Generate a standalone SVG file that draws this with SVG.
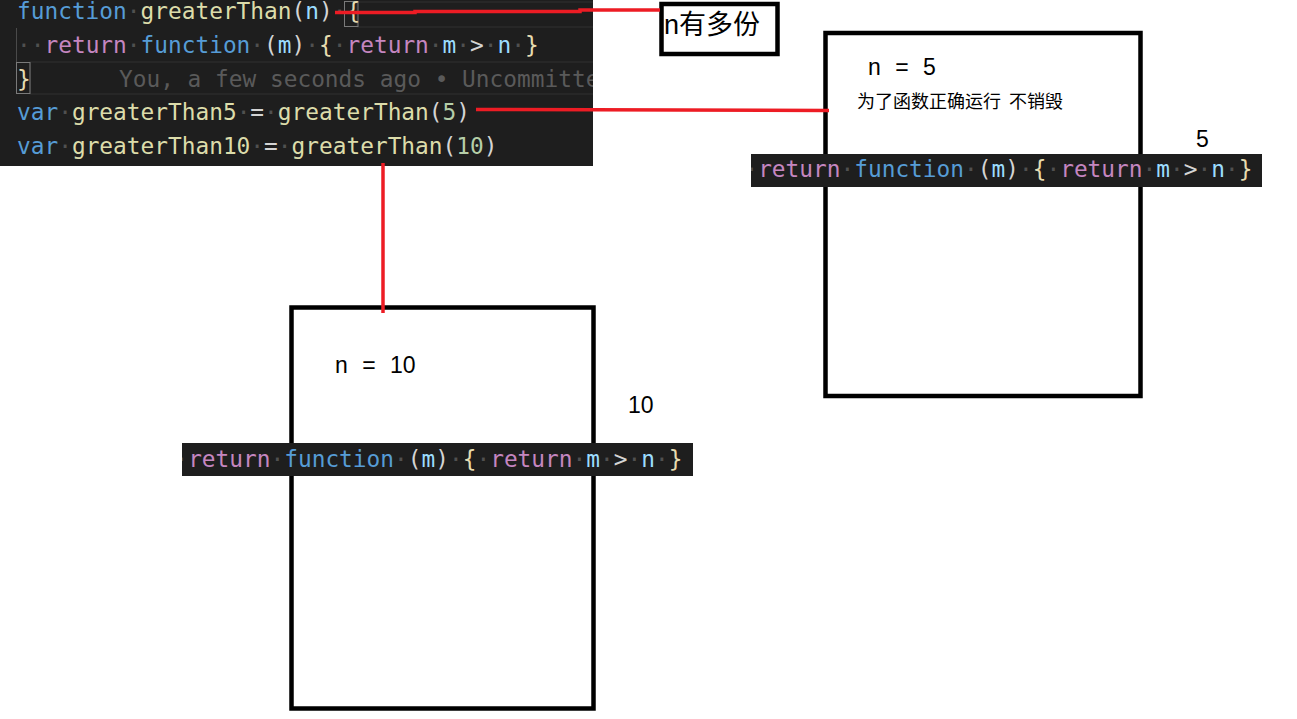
<svg xmlns="http://www.w3.org/2000/svg" width="1297" height="719" viewBox="0 0 1297 719">
<defs>
<style>
.bg{fill:#1e1e1e}
.code{font-family:"DejaVu Sans Mono","Liberation Mono",monospace;font-size:22.8px}
.kw{fill:#569cd6}.fn{fill:#dcdcaa}.pr{fill:#9cdcfe}.rt{fill:#c586c0}.pu{fill:#d4d4d4}.nu{fill:#b5cea8}.dt{fill:#505050}.br{fill:#e6dcb0}
.ghost{fill:#5a5a5a}
.box{fill:none;stroke:#000;stroke-width:4.5}
.lbl{font-family:"Liberation Sans",Arial,sans-serif;fill:#000}
.cjk{font-family:"Liberation Sans","Noto Sans CJK SC",sans-serif;fill:#000}
.red{fill:none;stroke:#ed1c24;stroke-width:3.5}
</style>
<clipPath id="cpPanel"><rect x="0" y="0" width="593" height="166"/></clipPath>
<clipPath id="cpS5"><rect x="751" y="154" width="511" height="33"/></clipPath>
<clipPath id="cpS10"><rect x="182" y="443" width="511" height="33"/></clipPath>
</defs>
<rect width="1297" height="719" fill="#fff"/>

<g id="code-panel" clip-path="url(#cpPanel)">
<rect class="bg" x="0" y="0" width="593" height="166"/>
<rect x="357" y="2" width="240" height="25" fill="none" stroke="#303030" stroke-width="1"/>
<rect x="344.5" y="1.5" width="13.5" height="25" fill="none" stroke="#7a7a7a" stroke-width="1"/>
<rect x="30" y="62" width="570" height="32" fill="none" stroke="#303030" stroke-width="1"/>
<rect x="16.5" y="62.5" width="13.5" height="31" fill="none" stroke="#7a7a7a" stroke-width="1"/>
<line x1="16.5" y1="28" x2="16.5" y2="62" stroke="#4a4a4a" stroke-width="1"/>
<text class="code" x="17" y="19"><tspan class="kw">function</tspan><tspan class="dt">·</tspan><tspan class="fn">greaterThan</tspan><tspan class="pu">(</tspan><tspan class="pr">n</tspan><tspan class="pu">)</tspan><tspan class="dt">·</tspan><tspan class="br">{</tspan></text>
<text class="code" x="17" y="53"><tspan class="dt">··</tspan><tspan class="rt">return</tspan><tspan class="dt">·</tspan><tspan class="kw">function</tspan><tspan class="dt">·</tspan><tspan class="pu">(</tspan><tspan class="pr">m</tspan><tspan class="pu">)</tspan><tspan class="dt">·</tspan><tspan class="br">{</tspan><tspan class="dt">·</tspan><tspan class="rt">return</tspan><tspan class="dt">·</tspan><tspan class="pr">m</tspan><tspan class="dt">·</tspan><tspan class="pu">&gt;</tspan><tspan class="dt">·</tspan><tspan class="pr">n</tspan><tspan class="dt">·</tspan><tspan class="br">}</tspan></text>
<text class="code" x="17" y="87"><tspan class="br">}</tspan></text>
<text class="code ghost" x="119" y="87">You, a few seconds ago • Uncommitte</text>
<text class="code" x="17" y="120"><tspan class="kw">var</tspan><tspan class="dt">·</tspan><tspan class="fn">greaterThan5</tspan><tspan class="dt">·</tspan><tspan class="pu">=</tspan><tspan class="dt">·</tspan><tspan class="fn">greaterThan</tspan><tspan class="pu">(</tspan><tspan class="nu">5</tspan><tspan class="pu">)</tspan></text>
<text class="code" x="17" y="154"><tspan class="kw">var</tspan><tspan class="dt">·</tspan><tspan class="fn">greaterThan10</tspan><tspan class="dt">·</tspan><tspan class="pu">=</tspan><tspan class="dt">·</tspan><tspan class="fn">greaterThan</tspan><tspan class="pu">(</tspan><tspan class="nu">10</tspan><tspan class="pu">)</tspan></text>
</g>

<g id="note-copies">
<rect class="box" x="661.5" y="4" width="116" height="50" stroke-width="5"/>
<text class="cjk" x="664" y="34" font-size="27">n有多份</text>
</g>

<g id="closure-5">
<rect class="box" x="825.5" y="33" width="315" height="363"/>
<text class="lbl" x="868" y="75" font-size="23" word-spacing="8">n = 5</text>
<text class="cjk" x="857" y="108" font-size="18" word-spacing="3">为了函数正确运行 不销毁</text>
<text class="lbl" x="1196" y="147" font-size="23">5</text>
<rect class="bg" x="751" y="154" width="511" height="33"/>
<text class="code" x="744.4" y="177" clip-path="url(#cpS5)"><tspan class="dt">·</tspan><tspan class="rt">return</tspan><tspan class="dt">·</tspan><tspan class="kw">function</tspan><tspan class="dt">·</tspan><tspan class="pu">(</tspan><tspan class="pr">m</tspan><tspan class="pu">)</tspan><tspan class="dt">·</tspan><tspan class="br">{</tspan><tspan class="dt">·</tspan><tspan class="rt">return</tspan><tspan class="dt">·</tspan><tspan class="pr">m</tspan><tspan class="dt">·</tspan><tspan class="pu">&gt;</tspan><tspan class="dt">·</tspan><tspan class="pr">n</tspan><tspan class="dt">·</tspan><tspan class="br">}</tspan></text>
</g>

<g id="closure-10">
<rect class="box" x="291.5" y="307.5" width="302" height="401"/>
<text class="lbl" x="335" y="373" font-size="23" word-spacing="8">n = 10</text>
<text class="lbl" x="628" y="413" font-size="23">10</text>
<rect class="bg" x="182" y="443" width="511" height="33"/>
<text class="code" x="174.4" y="467" clip-path="url(#cpS10)"><tspan class="dt">·</tspan><tspan class="rt">return</tspan><tspan class="dt">·</tspan><tspan class="kw">function</tspan><tspan class="dt">·</tspan><tspan class="pu">(</tspan><tspan class="pr">m</tspan><tspan class="pu">)</tspan><tspan class="dt">·</tspan><tspan class="br">{</tspan><tspan class="dt">·</tspan><tspan class="rt">return</tspan><tspan class="dt">·</tspan><tspan class="pr">m</tspan><tspan class="dt">·</tspan><tspan class="pu">&gt;</tspan><tspan class="dt">·</tspan><tspan class="pr">n</tspan><tspan class="dt">·</tspan><tspan class="br">}</tspan></text>
</g>

<g id="connectors">
<path class="red" d="M335,12.5 L415,12.5 L415,11.5 L580,11.5 L580,10 L660,10"/>
<path class="red" d="M476,109.5 L829,110.5"/>
<path class="red" d="M383,163 L383,313" stroke-width="4"/>
</g>
</svg>
